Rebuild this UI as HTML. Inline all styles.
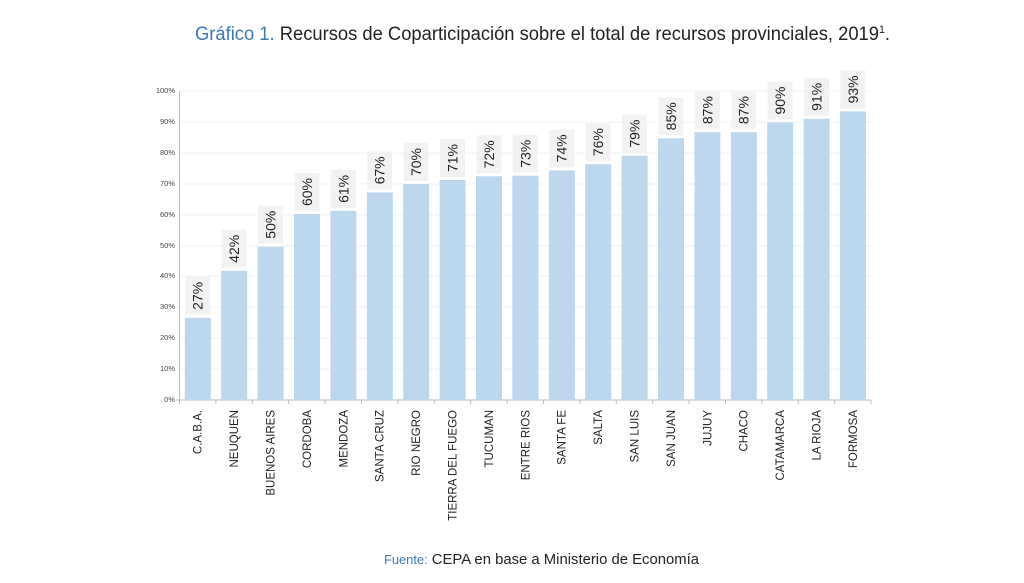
<!DOCTYPE html>
<html><head><meta charset="utf-8"><style>
html,body{margin:0;padding:0;background:#fff;}
svg{display:block;}
</style></head><body>
<svg width="1024" height="583" viewBox="0 0 1024 583" xmlns="http://www.w3.org/2000/svg" font-family="Liberation Sans, DejaVu Sans, sans-serif">
<text x="195" y="40" font-size="19" textLength="695" lengthAdjust="spacingAndGlyphs" fill="#222"><tspan fill="#3a7ab8">Gráfico 1.</tspan> Recursos de Coparticipación sobre el total de recursos provinciales, 2019<tspan font-size="11" dy="-7">1</tspan><tspan dy="7">.</tspan></text>
<g stroke="#f0f0f0" stroke-width="1">
<line x1="180" x2="871" y1="91" y2="91"/><line x1="180" x2="871" y1="122" y2="122"/><line x1="180" x2="871" y1="153" y2="153"/><line x1="180" x2="871" y1="184" y2="184"/><line x1="180" x2="871" y1="215" y2="215"/><line x1="180" x2="871" y1="246" y2="246"/><line x1="180" x2="871" y1="276" y2="276"/><line x1="180" x2="871" y1="307" y2="307"/><line x1="180" x2="871" y1="338" y2="338"/><line x1="180" x2="871" y1="369" y2="369"/>
</g>
<g font-size="7.5" fill="#444" text-anchor="end">
<text x="175" y="93">100%</text><text x="175" y="124">90%</text><text x="175" y="155">80%</text><text x="175" y="186">70%</text><text x="175" y="217">60%</text><text x="175" y="248">50%</text><text x="175" y="278">40%</text><text x="175" y="309">30%</text><text x="175" y="340">20%</text><text x="175" y="371">10%</text><text x="175" y="402">0%</text>
</g>
<g stroke="#bbb" stroke-width="1">
<line x1="179.5" y1="91" x2="179.5" y2="400"/><line x1="176" y1="400" x2="871" y2="400"/>
<line x1="179.5" y1="400" x2="179.5" y2="404"/><line x1="215.9" y1="400" x2="215.9" y2="404"/><line x1="252.3" y1="400" x2="252.3" y2="404"/><line x1="288.7" y1="400" x2="288.7" y2="404"/><line x1="325.1" y1="400" x2="325.1" y2="404"/><line x1="361.5" y1="400" x2="361.5" y2="404"/><line x1="397.9" y1="400" x2="397.9" y2="404"/><line x1="434.3" y1="400" x2="434.3" y2="404"/><line x1="470.7" y1="400" x2="470.7" y2="404"/><line x1="507.1" y1="400" x2="507.1" y2="404"/><line x1="543.5" y1="400" x2="543.5" y2="404"/><line x1="579.9" y1="400" x2="579.9" y2="404"/><line x1="616.3" y1="400" x2="616.3" y2="404"/><line x1="652.7" y1="400" x2="652.7" y2="404"/><line x1="689.1" y1="400" x2="689.1" y2="404"/><line x1="725.5" y1="400" x2="725.5" y2="404"/><line x1="761.9" y1="400" x2="761.9" y2="404"/><line x1="798.3" y1="400" x2="798.3" y2="404"/><line x1="834.7" y1="400" x2="834.7" y2="404"/><line x1="871" y1="400" x2="871" y2="404"/>
</g>
<defs>
<g id="d"></g>
</defs>
<g font-size="14" fill="#222" text-anchor="middle">
<g transform="translate(197.7,317.8)"><rect x="-12.9" y="0" width="26" height="82.2" fill="#bdd7ee"/><rect x="-12.5" y="-41" width="25" height="38" fill="#f2f2f2"/><text transform="translate(5,-22) rotate(-90)">27%</text></g>
<g transform="translate(234.1,270.8)"><rect x="-12.9" y="0" width="26" height="129.2" fill="#bdd7ee"/><rect x="-12.5" y="-41" width="25" height="38" fill="#f2f2f2"/><text transform="translate(5,-22) rotate(-90)">42%</text></g>
<g transform="translate(270.5,246.7)"><rect x="-12.9" y="0" width="26" height="153.3" fill="#bdd7ee"/><rect x="-12.5" y="-41" width="25" height="38" fill="#f2f2f2"/><text transform="translate(5,-22) rotate(-90)">50%</text></g>
<g transform="translate(306.9,214)"><rect x="-12.9" y="0" width="26" height="186" fill="#bdd7ee"/><rect x="-12.5" y="-41" width="25" height="38" fill="#f2f2f2"/><text transform="translate(5,-22) rotate(-90)">60%</text></g>
<g transform="translate(343.3,210.9)"><rect x="-12.9" y="0" width="26" height="189.1" fill="#bdd7ee"/><rect x="-12.5" y="-41" width="25" height="38" fill="#f2f2f2"/><text transform="translate(5,-22) rotate(-90)">61%</text></g>
<g transform="translate(379.7,192.4)"><rect x="-12.9" y="0" width="26" height="207.6" fill="#bdd7ee"/><rect x="-12.5" y="-41" width="25" height="38" fill="#f2f2f2"/><text transform="translate(5,-22) rotate(-90)">67%</text></g>
<g transform="translate(416.1,184)"><rect x="-12.9" y="0" width="26" height="216" fill="#bdd7ee"/><rect x="-12.5" y="-41" width="25" height="38" fill="#f2f2f2"/><text transform="translate(5,-22) rotate(-90)">70%</text></g>
<g transform="translate(452.5,180)"><rect x="-12.9" y="0" width="26" height="220" fill="#bdd7ee"/><rect x="-12.5" y="-41" width="25" height="38" fill="#f2f2f2"/><text transform="translate(5,-22) rotate(-90)">71%</text></g>
<g transform="translate(488.9,176.3)"><rect x="-12.9" y="0" width="26" height="223.7" fill="#bdd7ee"/><rect x="-12.5" y="-41" width="25" height="38" fill="#f2f2f2"/><text transform="translate(5,-22) rotate(-90)">72%</text></g>
<g transform="translate(525.3,175.7)"><rect x="-12.9" y="0" width="26" height="224.3" fill="#bdd7ee"/><rect x="-12.5" y="-41" width="25" height="38" fill="#f2f2f2"/><text transform="translate(5,-22) rotate(-90)">73%</text></g>
<g transform="translate(561.7,170.4)"><rect x="-12.9" y="0" width="26" height="229.6" fill="#bdd7ee"/><rect x="-12.5" y="-41" width="25" height="38" fill="#f2f2f2"/><text transform="translate(5,-22) rotate(-90)">74%</text></g>
<g transform="translate(598.1,164.2)"><rect x="-12.9" y="0" width="26" height="235.8" fill="#bdd7ee"/><rect x="-12.5" y="-41" width="25" height="38" fill="#f2f2f2"/><text transform="translate(5,-22) rotate(-90)">76%</text></g>
<g transform="translate(634.5,155.6)"><rect x="-12.9" y="0" width="26" height="244.4" fill="#bdd7ee"/><rect x="-12.5" y="-41" width="25" height="38" fill="#f2f2f2"/><text transform="translate(5,-22) rotate(-90)">79%</text></g>
<g transform="translate(670.9,138.3)"><rect x="-12.9" y="0" width="26" height="261.7" fill="#bdd7ee"/><rect x="-12.5" y="-41" width="25" height="38" fill="#f2f2f2"/><text transform="translate(5,-22) rotate(-90)">85%</text></g>
<g transform="translate(707.3,132.1)"><rect x="-12.9" y="0" width="26" height="267.9" fill="#bdd7ee"/><rect x="-12.5" y="-41" width="25" height="38" fill="#f2f2f2"/><text transform="translate(5,-22) rotate(-90)">87%</text></g>
<g transform="translate(743.7,132.1)"><rect x="-12.9" y="0" width="26" height="267.9" fill="#bdd7ee"/><rect x="-12.5" y="-41" width="25" height="38" fill="#f2f2f2"/><text transform="translate(5,-22) rotate(-90)">87%</text></g>
<g transform="translate(780.1,122.5)"><rect x="-12.9" y="0" width="26" height="277.5" fill="#bdd7ee"/><rect x="-12.5" y="-41" width="25" height="38" fill="#f2f2f2"/><text transform="translate(5,-22) rotate(-90)">90%</text></g>
<g transform="translate(816.5,118.8)"><rect x="-12.9" y="0" width="26" height="281.2" fill="#bdd7ee"/><rect x="-12.5" y="-41" width="25" height="38" fill="#f2f2f2"/><text transform="translate(5,-22) rotate(-90)">91%</text></g>
<g transform="translate(852.9,111.4)"><rect x="-12.9" y="0" width="26" height="288.6" fill="#bdd7ee"/><rect x="-12.5" y="-41" width="25" height="38" fill="#f2f2f2"/><text transform="translate(5,-22) rotate(-90)">93%</text></g>
</g>
<g font-size="11.5" fill="#222" text-anchor="end">
<text transform="translate(201.7,410) rotate(-90)">C.A.B.A.</text>
<text transform="translate(238.1,410) rotate(-90)">NEUQUEN</text>
<text transform="translate(274.5,410) rotate(-90)">BUENOS AIRES</text>
<text transform="translate(310.9,410) rotate(-90)">CORDOBA</text>
<text transform="translate(347.3,410) rotate(-90)">MENDOZA</text>
<text transform="translate(383.7,410) rotate(-90)">SANTA CRUZ</text>
<text transform="translate(420.1,410) rotate(-90)">RIO NEGRO</text>
<text transform="translate(456.5,410) rotate(-90)">TIERRA DEL FUEGO</text>
<text transform="translate(492.9,410) rotate(-90)">TUCUMAN</text>
<text transform="translate(529.3,410) rotate(-90)">ENTRE RIOS</text>
<text transform="translate(565.7,410) rotate(-90)">SANTA FE</text>
<text transform="translate(602.1,410) rotate(-90)">SALTA</text>
<text transform="translate(638.5,410) rotate(-90)">SAN LUIS</text>
<text transform="translate(674.9,410) rotate(-90)">SAN JUAN</text>
<text transform="translate(711.3,410) rotate(-90)">JUJUY</text>
<text transform="translate(747.7,410) rotate(-90)">CHACO</text>
<text transform="translate(784.1,410) rotate(-90)">CATAMARCA</text>
<text transform="translate(820.5,410) rotate(-90)">LA RIOJA</text>
<text transform="translate(856.9,410) rotate(-90)">FORMOSA</text>
</g>
<text x="384" y="564" font-size="15" fill="#222" textLength="315" lengthAdjust="spacingAndGlyphs"><tspan fill="#3a7ab8" font-size="13">Fuente:</tspan> CEPA en base a Ministerio de Economía</text>
</svg>
</body></html>
